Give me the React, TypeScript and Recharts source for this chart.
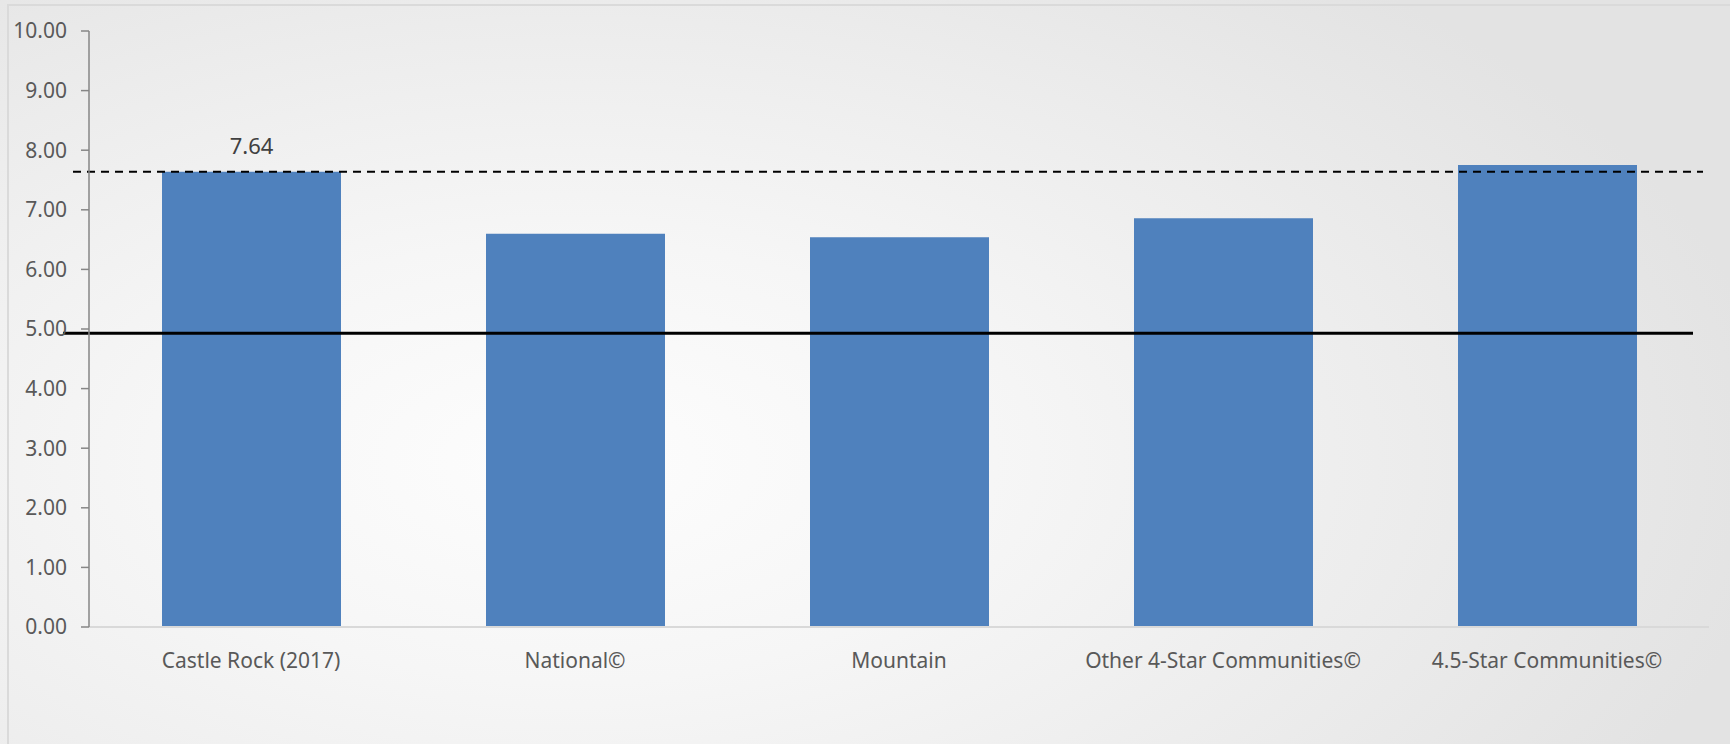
import { BarChart, Bar, XAxis, YAxis, ReferenceLine, LabelList } from "recharts";

const categories = [
  "Castle Rock (2017)",
  "National©",
  "Mountain",
  "Other 4-Star Communities©",
  "4.5-Star Communities©",
];
const scores = [7.64, 6.6, 6.54, 6.86, 7.75];
const yTicks = [0, 1, 2, 3, 4, 5, 6, 7, 8, 9, 10];
const benchmarkLine = 4.93;
const castleRockLine = 7.64;

const data = categories.map((name, i) => ({ name, score: scores[i] }));

const FONT = "'Noto Sans', 'Open Sans', sans-serif";

// the two horizontal lines overhang the plot a little, like the slide shapes
const overhangLine =
  (left: number, right: number, width: number, dash?: string) => (props: any) => (
    <line
      x1={props.x1 - left}
      y1={props.y1}
      x2={props.x2 - right}
      y2={props.y2}
      stroke="#000"
      strokeWidth={width}
      strokeDasharray={dash}
    />
  );

const firstLabel = (props: any) => {
  const { x, y, width, value, index } = props;
  if (index !== 0) return null;
  return (
    <text
      x={x + width / 2}
      y={y - 18}
      textAnchor="middle"
      fontFamily={FONT}
      fontSize={22}
      fill="#404040"
    >
      {Number(value).toFixed(2)}
    </text>
  );
};

export default function App() {
  return (
    <div
      style={{
        position: "absolute",
        top: 0,
        left: 0,
        width: 1730,
        height: 744,
        overflow: "hidden",
        background:
          "radial-gradient(ellipse 70% 85% at 33% 62%, #fdfdfd 0%, #f6f6f6 35%, #ececec 70%, #e3e3e3 100%)",
      }}
    >
      <div
        style={{
          position: "absolute",
          top: 4,
          left: 7,
          width: 1730,
          height: 744,
          borderTop: "2px solid #dadada",
          borderLeft: "2px solid #dadada",
        }}
      />
      <div style={{ position: "absolute", top: 0, left: 0 }}>
        <BarChart
          width={1730}
          height={744}
          data={data}
          margin={{ top: 31, right: 21, bottom: 77, left: 0 }}
        >
          <XAxis
            dataKey="name"
            tickLine={false}
            tickSize={0}
            tickMargin={26}
            axisLine={{ stroke: "#d9d9d9", strokeWidth: 2 }}
            tick={{ fill: "#595959", fontSize: 21, fontFamily: FONT }}
            height={40}
          />
          <YAxis
            width={89}
            domain={[0, 10]}
            ticks={yTicks}
            interval={0}
            tickFormatter={(v: number) => v.toFixed(2)}
            tickSize={8}
            tickMargin={14}
            axisLine={{ stroke: "#868686", strokeWidth: 1.5 }}
            tickLine={{ stroke: "#868686", strokeWidth: 1.5 }}
            tick={{ fill: "#595959", fontSize: 21, fontFamily: FONT }}
          />
          <Bar dataKey="score" fill="#4f81bd" barSize={179} isAnimationActive={false}>
            <LabelList dataKey="score" content={firstLabel} />
          </Bar>
          <ReferenceLine y={benchmarkLine} shape={overhangLine(26, 16, 3)} />
          <ReferenceLine y={castleRockLine} shape={overhangLine(16, 6, 2, "8 6")} />
        </BarChart>
      </div>
    </div>
  );
}
